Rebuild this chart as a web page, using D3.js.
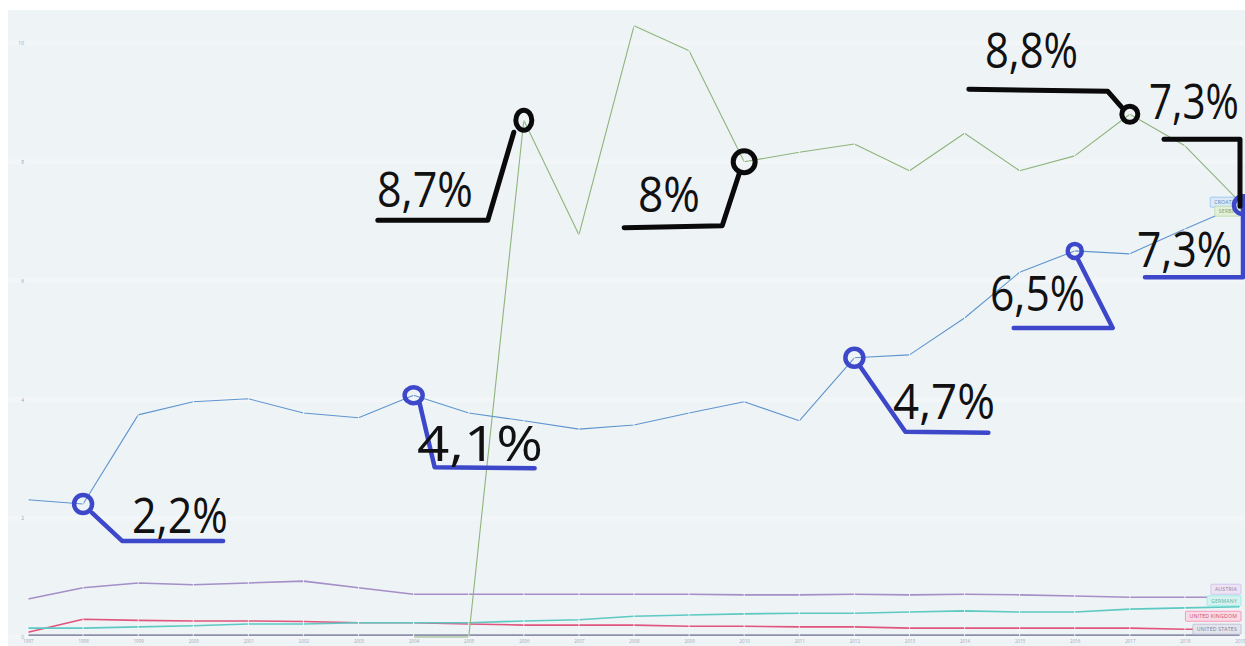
<!DOCTYPE html>
<html>
<head>
<meta charset="utf-8">
<script src="https://cdn.jsdelivr.net/npm/d3@7/dist/d3.min.js"></script>
<style>
  html, body { margin: 0; padding: 0; background: #ffffff; }
  svg { display: block; }
</style>
</head>
<body>
<svg id="chart" width="1245" height="646"></svg>
<script>
// ---------- DATA ----------
const years = d3.range(1997, 2020);
const yTicks = [0, 2, 4, 6, 8, 10];
const seriesNames = ["Croatia", "Serbia", "Austria", "Germany", "United Kingdom", "United States"];
const croatia = [2.31, 2.24, 3.74, 3.96, 4.01, 3.77, 3.69, 4.07, 3.77, 3.64, 3.50, 3.57, 3.77, 3.96, 3.64, 4.70, 4.75, 5.37, 6.14, 6.50, 6.45, 6.87, 7.27];
const serbia = [null, null, null, null, null, null, null, 0, 0, 8.70, 6.77, 10.29, 9.87, 8.00, 8.16, 8.30, 7.85, 8.48, 7.85, 8.10, 8.80, 8.27, 7.32];
const austria = [0.64, 0.83, 0.91, 0.88, 0.91, 0.94, 0.83, 0.72, 0.72, 0.72, 0.72, 0.72, 0.72, 0.71, 0.71, 0.72, 0.71, 0.72, 0.71, 0.69, 0.67, 0.67, 0.67];
const germany = [0.15, 0.15, 0.17, 0.19, 0.22, 0.22, 0.24, 0.24, 0.24, 0.27, 0.29, 0.35, 0.37, 0.39, 0.40, 0.40, 0.42, 0.44, 0.42, 0.42, 0.47, 0.49, 0.51];
const uk = [0.08, 0.30, 0.28, 0.27, 0.27, 0.26, 0.24, 0.24, 0.22, 0.20, 0.20, 0.20, 0.18, 0.18, 0.17, 0.17, 0.15, 0.15, 0.15, 0.15, 0.15, 0.13, 0.13];
const us = [0.03, 0.03, 0.03, 0.03, 0.03, 0.03, 0.03, 0.03, 0.03, 0.03, 0.03, 0.03, 0.03, 0.03, 0.03, 0.03, 0.03, 0.03, 0.03, 0.03, 0.03, 0.03, 0.03];
const seriesValues = [croatia, serbia, austria, germany, uk, us];
const legendLabels = ["CROATIA", "SERBIA", "AUSTRIA", "GERMANY", "UNITED KINGDOM", "UNITED STATES"];

// Annotated points: series index, year, label
const annSeries = [0, 0, 0, 0, 0, 1, 1, 1, 1];
const annYears  = [1998, 2004, 2012, 2016, 2019, 2006, 2010, 2017, 2019];
const annLabels = ["2,2%", "4,1%", "4,7%", "6,5%", "7,3%", "8,7%", "8%", "8,8%", "7,3%"];

// ---------- STYLE / LAYOUT ----------
const W = 1245, H = 646;
const colors = ["#5f95cf", "#8fb47c", "#a48fc6", "#5ec9c2", "#e0547e", "#8d90aa"];
const lineWidths = [1.1, 1.1, 1.6, 1.6, 1.6, 1.8];
const legendFill = ["#dce9f6", "#e2efd9", "#ece4f3", "#d8f1ef", "#f8dbe4", "#e3e4ec"];
const legendDy = [-3, 9, -8, -6, -13, -6];
const drawOrder = [5, 4, 3, 2, 1, 0];

// annotation layout: relative path points (from data point), circle radii, label box [x, baseline, width]
const annLayout = [
  {kind: "blue", r: [9, 9], path: [[9, 9], [39, 37], [140, 37]], text: [132, 533, 96]},
  {kind: "blue", r: [9, 8], path: [[6, 8], [21, 72], [121, 73]], text: [417, 461, 126]},
  {kind: "blue", r: [9, 9], path: [[6, 9], [51, 74], [134, 75]], text: [893, 419, 102]},
  {kind: "blue", r: [7, 7], path: [[3, 8], [38, 77], [-61, 77]], text: [990, 311, 95]},
  {kind: "blue", r: [9, 9], path: [[0, -6], [0, 72], [-98, 72]], text: [1137, 267, 95], dx: 3},
  {kind: "black", r: [8, 10], path: [[-10, 12], [-36, 100], [-146, 100]], text: [377, 207, 96]},
  {kind: "black", r: [11, 11], path: [[-5, 12], [-22, 64], [-120, 66]], text: [638, 212, 62]},
  {kind: "black", r: [8, 8], path: [[-8, -7], [-22, -23], [-161, -25]], text: [985, 68, 93]},
  {kind: "black", r: [0, 0], path: [[-76, -63], [0, -63], [0, 4]], text: [1149, 119, 90]}
];
const annColor = {blue: "#3d47c9", black: "#0a0a0a"};

// ---------- CHART ----------
const svg = d3.select("#chart");
const x = d3.scalePoint().domain(years).range([28, 1240]);
const y = d3.scaleLinear().domain([0, 10]).range([637, 43]);

svg.append("rect").attr("x", 8).attr("y", 10).attr("width", W - 8).attr("height", H - 10)
  .attr("fill", "#eef3f6");

// gridlines
svg.append("g").selectAll("line").data(yTicks).join("line")
  .attr("x1", 8).attr("x2", W)
  .attr("y1", d => y(d)).attr("y2", d => y(d))
  .attr("stroke", "#f7f9fb").attr("stroke-width", 5).attr("opacity", 0.6);

// y axis labels
const yAxis = d3.axisLeft(y).tickValues(yTicks).tickSize(0).tickPadding(0);
svg.append("g").attr("transform", "translate(24,0)").call(yAxis)
  .call(g => g.select(".domain").remove())
  .call(g => g.selectAll("text").attr("fill", "#a0a4ad").attr("font-size", 5)
    .attr("font-family", "Open Sans, sans-serif"));

// x axis labels
const xAxis = d3.axisBottom(x).tickSize(0).tickPadding(0).tickFormat(d3.format("d"));
svg.append("g").attr("transform", "translate(0,640)").call(xAxis)
  .call(g => g.select(".domain").remove())
  .call(g => g.selectAll("text").attr("fill", "#a6aab3").attr("font-size", 4.5)
    .attr("font-family", "Open Sans, sans-serif"));

// lines
const line = d3.line()
  .defined(d => d.v !== null)
  .x(d => x(d.year)).y(d => y(d.v));

drawOrder.forEach(i => {
  const pts = years.map((yr, k) => ({year: yr, v: seriesValues[i][k]}));
  svg.append("path").datum(pts)
    .attr("d", line).attr("fill", "none")
    .attr("stroke", colors[i]).attr("stroke-width", lineWidths[i])
    .attr("stroke-linejoin", "round");
  svg.append("g").selectAll("rect").data(pts.filter(d => d.v !== null)).join("rect")
    .attr("x", d => x(d.year) - 0.5).attr("y", d => y(d.v) - 2)
    .attr("width", 1).attr("height", 4)
    .attr("fill", "#ffffff").attr("opacity", 0.75);
});

// legend labels at line ends
const legend = svg.append("g").attr("font-family", "Open Sans, sans-serif");
seriesNames.forEach((name, i) => {
  const last = seriesValues[i][seriesValues[i].length - 1];
  const cy = y(last) + legendDy[i];
  const g = legend.append("g");
  const t = g.append("text").text(legendLabels[i])
    .attr("font-size", 5.2).attr("letter-spacing", 0.2)
    .attr("fill", d3.color(colors[i]).darker(0.3))
    .attr("dominant-baseline", "central");
  const tw = t.node().getComputedTextLength();
  const bw = tw + 8;
  g.insert("rect", "text")
    .attr("x", 1241 - bw).attr("y", cy - 5).attr("width", bw).attr("height", 10)
    .attr("fill", legendFill[i]).attr("stroke", d3.color(colors[i]).brighter(0.5))
    .attr("stroke-width", 0.6).attr("rx", 1);
  t.attr("x", 1241 - bw + 4).attr("y", cy);
});

// annotations
const ann = svg.append("g");
annLabels.forEach((lab, i) => {
  const s = annSeries[i];
  const k = years.indexOf(annYears[i]);
  const px = x(annYears[i]) + (annLayout[i].dx || 0);
  const py = y(seriesValues[s][k]);
  const L = annLayout[i];
  const col = annColor[L.kind];
  const sw = L.kind === "blue" ? 4.5 : 5;
  ann.append("path")
    .attr("d", d3.line()(L.path.map(p => [px + p[0], py + p[1]])))
    .attr("fill", "none").attr("stroke", col).attr("stroke-width", sw)
    .attr("stroke-linecap", "round").attr("stroke-linejoin", "round");
  if (L.r[0] > 0) {
    ann.append("ellipse").attr("cx", px).attr("cy", py)
      .attr("rx", L.r[0]).attr("ry", L.r[1])
      .attr("fill", "none").attr("stroke", col).attr("stroke-width", sw);
  }
  const t = ann.append("text").text(lab)
    .attr("x", 0).attr("y", 0)
    .attr("font-family", "Open Sans, sans-serif").attr("font-size", 49)
    .attr("fill", "#111111");
  const natural = t.node().getComputedTextLength();
  const sx = L.text[2] / natural;
  t.attr("transform", `translate(${L.text[0]},${L.text[1]}) scale(${sx},1)`);
});
</script>
</body>
</html>
